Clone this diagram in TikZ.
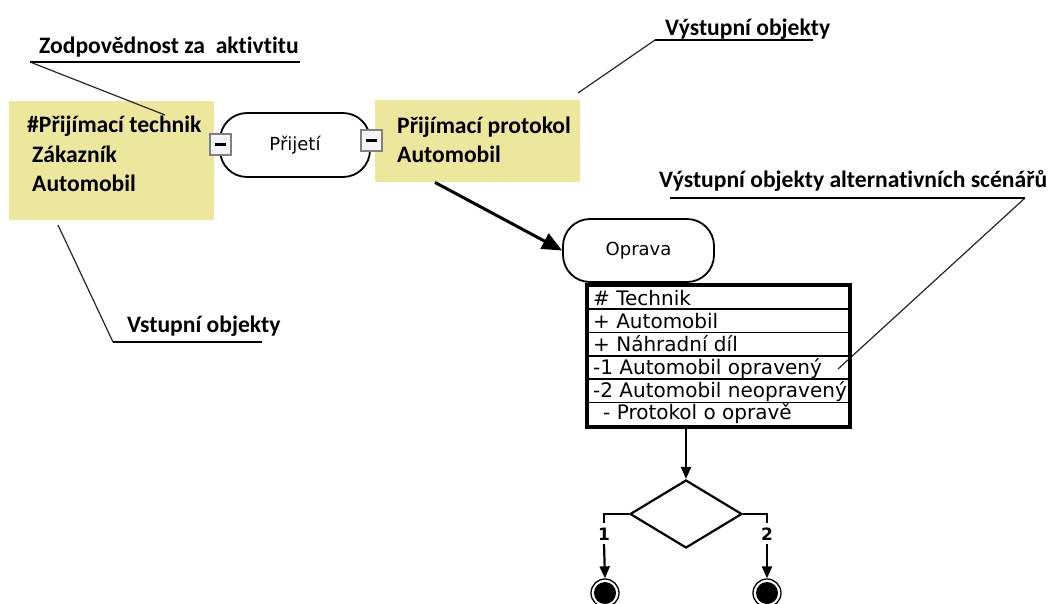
\documentclass[tikz,border=0pt]{standalone}
\usepackage{fontspec}
\setmainfont{DejaVu Sans}
\newfontfamily\notefont[Ligatures=NoCommon]{Carlito}
\usetikzlibrary{arrows.meta,shapes.geometric}

\definecolor{objyellow}{RGB}{237,231,158}
\definecolor{togglegray}{RGB}{128,128,128}
\definecolor{togglefill}{RGB}{244,244,248}

\begin{document}
\begin{tikzpicture}[x=1pt,y=-1pt,
  note/.style={font=\notefont\bfseries\fontsize{23.6}{26}\selectfont, anchor=west, inner sep=0, text height=15, text depth=0},
  objbox/.style={fill=objyellow, draw=none, anchor=north west, inner sep=0},
  activity/.style={draw, line width=1.8, fill=white, rounded corners=27, inner sep=0, font=\fontsize{18}{20}\selectfont},
  toggle/.style={draw=togglegray, line width=2, fill=togglefill, minimum size=21, inner sep=0,
    path picture={\fill[black] (path picture bounding box.center) ++(-5.5,-1.5) rectangle ++(11,3);}},
  leader/.style={line width=1.2, black!85},
  underline/.style={line width=1.6},
  rowtxt/.style={anchor=west, inner sep=0, font=\fontsize{20}{22}\selectfont, text height=14.6, text depth=0},
  flow/.style={line width=2.2, -{Triangle[length=12,width=10]}},
  branch/.style={font=\bfseries\fontsize{17}{18}\selectfont, inner xsep=1, inner ysep=4, text height=13, text depth=0},
  final/.style={circle, draw, line width=1.3, minimum size=28, inner sep=0,
    path picture={\fill[black] (path picture bounding box.center) circle (11);}},
]
\useasboundingbox (0,0) rectangle (1048,603);
\fill[white] (0,0) rectangle (1048,603);

% input and output object boxes
\node[objbox, minimum width=205, minimum height=119] (inobj) at (9,101) {};
\node[objbox, minimum width=205, minimum height=82] (outobj) at (375,100) {};
\node[note] (in1) at (27,125) {\#Přijímací technik};
\node[note] (in2) at (32,155) {Zákazník};
\node[note] (in3) at (32,184) {Automobil};
\node[note] (out1) at (397,125.5) {Přijímací protokol};
\node[note] (out2) at (397,155) {Automobil};

% first activity with its toggles
\node[activity, minimum width=150, minimum height=64] (prijeti) at (295,145) {Přijetí};
\node[toggle] (tg1) at (220,144) {};
\node[toggle] (tg2) at (371,140) {};

% annotation: responsibility
\node[note] (zod) at (39,46) {Zodpovědnost za\ \ aktivtitu};
\coordinate (zodL) at (30,62);
\coordinate (zodR) at (300,62);
\coordinate (zodTip) at (165,115);
\draw[underline] (zodL) -- (zodR);
\draw[leader] (zodL) -- (zodTip);

% annotation: input objects
\node[note] (vst) at (127,324.5) {Vstupní objekty};
\coordinate (vstL) at (113,342);
\coordinate (vstR) at (262,342);
\coordinate (vstTip) at (58,225);
\draw[underline] (vstL) -- (vstR);
\draw[leader] (vstTip) -- (vstL);

% annotation: output objects
\node[note] (vys) at (665,27.5) {Výstupní objekty};
\coordinate (vysL) at (655,40);
\coordinate (vysR) at (813,40);
\coordinate (vysTip) at (578,93);
\draw[underline] (vysL) -- (vysR);
\draw[leader] (vysTip) -- (vysL);

% annotation: outputs of alternative scenarios
\node[note] (alt) at (659,180) {Výstupní objekty alternativních scénářů};
\coordinate (altL) at (670,198);
\coordinate (altR) at (1025,198);
\coordinate (altTip) at (838,369);
\draw[underline] (altL) -- (altR);
\draw[leader] (altR) -- (altTip);

% second activity
\node[activity, minimum width=151, minimum height=63] (oprava) at (638.5,250.5) {Oprava};
\draw[line width=3, -{Triangle[length=20,width=17]}] ([xshift=60]outobj.south west) -- (oprava.west);

% object table of the activity
\node[draw, line width=4, minimum width=263, minimum height=142, inner sep=0] (tbl) at (718.5,356) {};
\foreach \y in {309,332.5,356,379,402.5}
  \draw[line width=1.3] (587,\y) -- (850,\y);
\node[rowtxt] (r1) at (593,298) {\# Technik};
\node[rowtxt] (r2) at (593,320.7) {+ Automobil};
\node[rowtxt] (r3) at (593,344.3) {+ Náhradní díl};
\node[rowtxt] (r4) at (593,367.5) {-1 Automobil opravený};
\node[rowtxt] (r5) at (593,390) {-2 Automobil neopravený};
\node[rowtxt] (r6) at (603,412.5) {- Protokol o opravě};

% decision and final states
\node[diamond, draw, line width=2.2, aspect=1.65, minimum width=112, minimum height=68, inner sep=0] (dec) at (686,514) {};
\draw[flow] (dec.north |- tbl.south) -- (dec.north);

\node[branch] (b1) at (604,533.5) {1};
\node[branch] (b2) at (767,533.5) {2};
\node[final] (end1) at (605,593) {};
\node[final] (end2) at (767,593) {};
\draw[line width=2.2] (dec.west) -| (b1.north);
\draw[line width=2.2] (dec.east) -| (b2.north);
\draw[flow] (b1.south) -- (end1.north);
\draw[flow] (b2.south) -- (end2.north);
\end{tikzpicture}
\end{document}
